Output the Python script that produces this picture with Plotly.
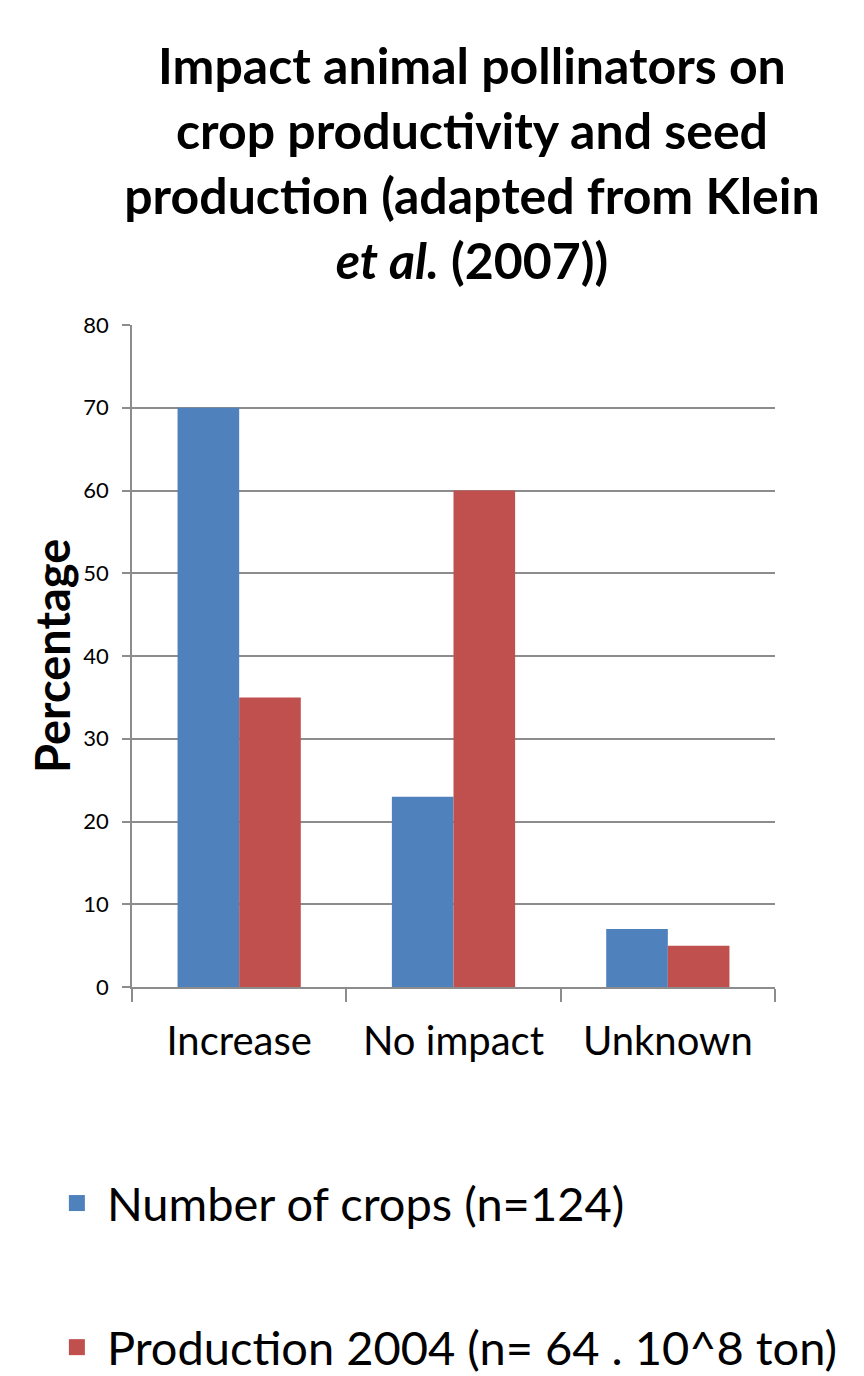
import plotly.graph_objects as go

categories = ["Increase", "No impact", "Unknown"]
crops = [70, 23, 7]
production = [35, 60, 5]
series_names = ["Number of crops (n=124)", "Production 2004 (n= 64 . 10^8 ton)"]
colors = ["#4F81BD", "#C0504D"]

FONT = "Lato"

fig = go.Figure()
for name, vals, col in zip(series_names, [crops, production], colors):
    fig.add_trace(go.Bar(x=categories, y=vals, name=name, marker_color=col,
                         marker_line_width=0, showlegend=False))
# legend entries (square markers)
for name, col, grp in zip(series_names, colors, ["a", "b"]):
    fig.add_trace(go.Scatter(x=[None], y=[None], mode="markers", name=name,
                             marker=dict(symbol="square", size=18, color=col),
                             legendgroup=grp, showlegend=True))

fig.update_layout(
    width=864, height=1376,
    paper_bgcolor="white", plot_bgcolor="white",
    margin=dict(l=124, r=97, t=317, b=397, autoexpand=False),
    barmode="group", bargap=0.425, bargroupgap=0,
    font=dict(family=FONT, color="black"),
    title=dict(
        text="Impact animal pollinators on<br>crop productivity and seed<br>production (adapted from Klein<br><i>et al.</i> (2007))",
        font=dict(size=50, family=FONT, weight="bold"),
        x=0.537, xanchor="center", xref="container",
        y=1 - 76 / 1376, yanchor="top", yref="container",
        automargin=False,
    ),
    legend=dict(
        xref="container", yref="container",
        x=0.045, xanchor="left", y=1 - 1158 / 1376, yanchor="top",
        font=dict(size=47, family=FONT), tracegroupgap=80,
        itemsizing="trace", itemwidth=50, bgcolor="rgba(0,0,0,0)",
    ),
    showlegend=True,
    annotations=[dict(
        text="<b>Percentage</b>", textangle=-90,
        xref="paper", yref="paper", x=0, y=0.5,
        xanchor="center", yanchor="middle", xshift=-80, showarrow=False,
        font=dict(size=47, family=FONT, color="black"),
    )],
)

fig.update_yaxes(
    range=[0, 80], dtick=10, tick0=0, automargin=False,
    showgrid=True, gridcolor="#8c8c8c", gridwidth=1.5,
    showline=True, linecolor="#8c8c8c", linewidth=1.5,
    ticks="outside", ticklen=8, tickcolor="#8c8c8c", tickwidth=1.5,
    tickfont=dict(size=22, family=FONT), ticklabelstandoff=9,
    zeroline=False,
)
fig.update_xaxes(
    type="category", tickson="boundaries", automargin=False, tickangle=0,
    showgrid=False, showline=True, linecolor="#8c8c8c", linewidth=1.5,
    ticks="outside", ticklen=13, tickcolor="#8c8c8c", tickwidth=1.5,
    tickfont=dict(size=40, family=FONT), ticklabelstandoff=18,
    mirror=False,
)

fig.write_html("out.html")
